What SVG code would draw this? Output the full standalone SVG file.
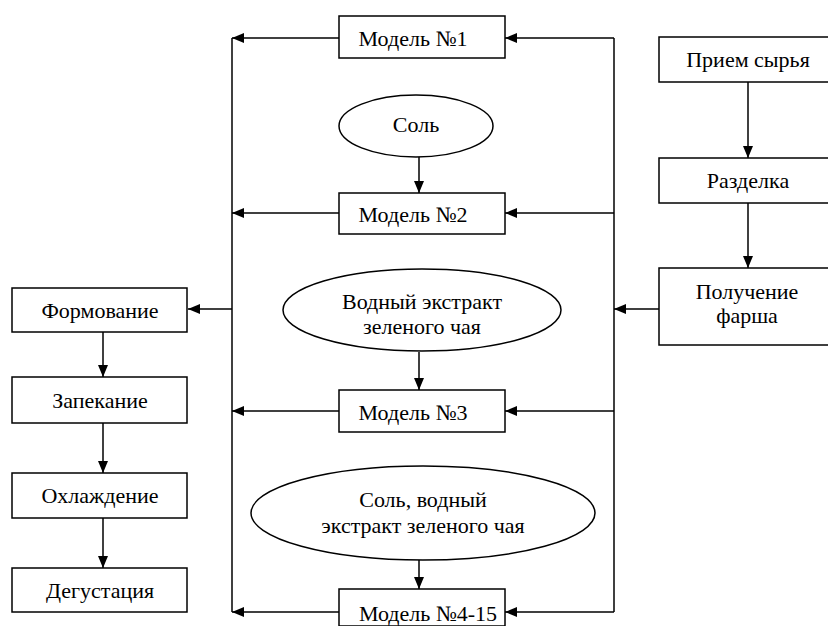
<svg xmlns="http://www.w3.org/2000/svg" width="828" height="626" viewBox="0 0 828 626" xml:lang="ru">
<style>
.b{fill:#fff;stroke:#000;stroke-width:1.5}
.l{fill:none;stroke:#000;stroke-width:1.5}
</style>
<defs>
<marker id="a" viewBox="0 0 12 10" refX="12" refY="5" markerWidth="12" markerHeight="10" markerUnits="userSpaceOnUse" orient="auto">
<path d="M0,0 L12,5 L0,10 Z" fill="#000"/>
</marker>
</defs>
<rect width="828" height="626" fill="#fff"/>
<g id="connectors">
<path class="l" d="M232,38 V612"/>
<path class="l" d="M614,38 V612"/>
<path class="l" d="M339,38 H232" marker-end="url(#a)"/>
<path class="l" d="M339,213 H232" marker-end="url(#a)"/>
<path class="l" d="M339,411 H232" marker-end="url(#a)"/>
<path class="l" d="M339,612 H232" marker-end="url(#a)"/>
<path class="l" d="M614,38 H505" marker-end="url(#a)"/>
<path class="l" d="M614,213 H505" marker-end="url(#a)"/>
<path class="l" d="M614,411 H505" marker-end="url(#a)"/>
<path class="l" d="M614,612 H505" marker-end="url(#a)"/>
<path class="l" d="M659,309 H614" marker-end="url(#a)"/>
<path class="l" d="M232,309 H188" marker-end="url(#a)"/>
<path class="l" d="M419,157 V193" marker-end="url(#a)"/>
<path class="l" d="M419,352 V390" marker-end="url(#a)"/>
<path class="l" d="M419,560 V589" marker-end="url(#a)"/>
<path class="l" d="M748,82 V158" marker-end="url(#a)"/>
<path class="l" d="M748,203 V268" marker-end="url(#a)"/>
<path class="l" d="M103,332 V377" marker-end="url(#a)"/>
<path class="l" d="M103,423 V473" marker-end="url(#a)"/>
<path class="l" d="M103,518 V568" marker-end="url(#a)"/>
</g>
<g font-family="'Liberation Serif', serif" font-size="22" text-anchor="middle" fill="#000">
<g id="model1"><rect class="b" x="339" y="16" width="166" height="42"/><text x="413" y="46">Модель №1</text></g>
<g id="salt"><ellipse class="b" cx="416" cy="126" rx="77" ry="31"/><text x="416" y="132">Соль</text></g>
<g id="model2"><rect class="b" x="339" y="193" width="166" height="41"/><text x="413" y="222">Модель №2</text></g>
<g id="extract"><ellipse class="b" cx="422" cy="310" rx="139" ry="41"/><text x="422" y="309">Водный экстракт</text><text x="422" y="334">зеленого чая</text></g>
<g id="model3"><rect class="b" x="339" y="390" width="166" height="42"/><text x="413" y="420">Модель №3</text></g>
<g id="salt-extract"><ellipse class="b" cx="423" cy="513" rx="172" ry="47"/><text x="423" y="507">Соль, водный</text><text x="423" y="533">экстракт зеленого чая</text></g>
<g id="model4"><rect class="b" x="339" y="589" width="166" height="37"/><text x="428" y="621">Модель №4-15</text></g>
<g id="priem"><rect class="b" x="659" y="37" width="175" height="45"/><text x="748" y="67">Прием сырья</text></g>
<g id="razdelka"><rect class="b" x="659" y="158" width="175" height="45"/><text x="748" y="188">Разделка</text></g>
<g id="farsh"><rect class="b" x="659" y="268" width="175" height="77"/><text x="747" y="299">Получение</text><text x="747" y="323">фарша</text></g>
<g id="formovanie"><rect class="b" x="12" y="288" width="175" height="44"/><text x="100" y="318">Формование</text></g>
<g id="zapekanie"><rect class="b" x="12" y="377" width="175" height="46"/><text x="100" y="408">Запекание</text></g>
<g id="ohlazhdenie"><rect class="b" x="12" y="473" width="175" height="45"/><text x="100" y="503">Охлаждение</text></g>
<g id="degustaciya"><rect class="b" x="12" y="568" width="175" height="44"/><text x="100" y="598">Дегустация</text></g>
</g>
</svg>
